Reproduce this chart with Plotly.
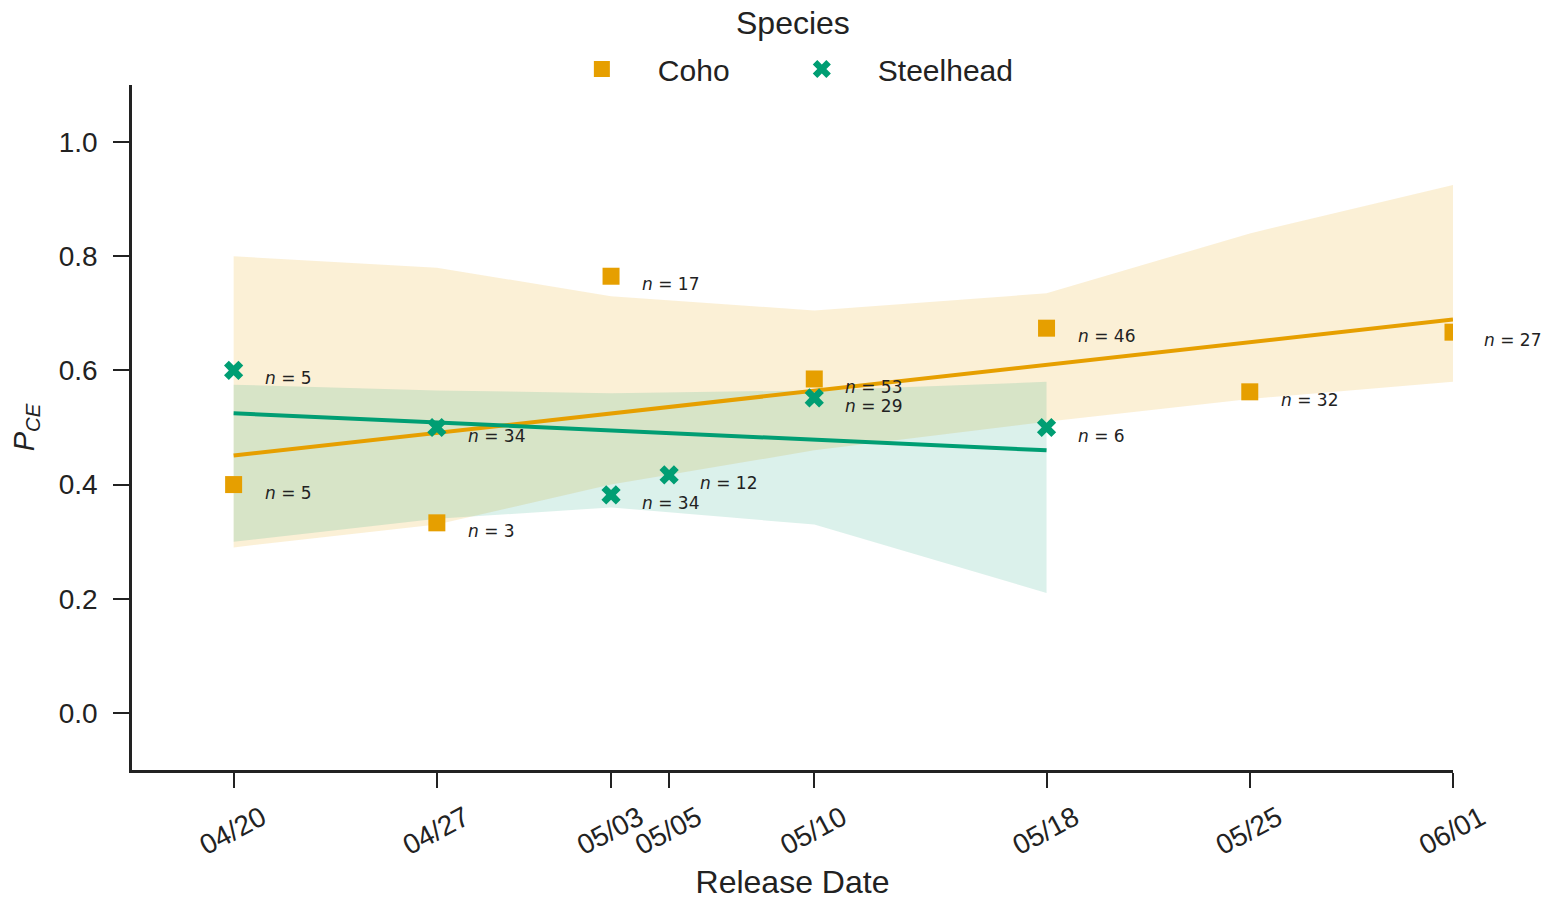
import plotly.graph_objects as go

# Release dates and capture-efficiency estimates per species
coho_dates = ["2021-04-20", "2021-04-27", "2021-05-03", "2021-05-10",
              "2021-05-18", "2021-05-25", "2021-06-01"]
coho_pce = [0.40, 0.333, 0.765, 0.585, 0.674, 0.5625, 0.667]
coho_n = [5, 3, 17, 53, 46, 32, 27]

steel_dates = ["2021-04-20", "2021-04-27", "2021-05-03", "2021-05-05",
               "2021-05-10", "2021-05-18"]
steel_pce = [0.60, 0.50, 0.382, 0.417, 0.552, 0.50]
steel_n = [5, 34, 34, 12, 29, 6]

# Fitted trend (end points) and confidence band per species
coho_fit_dates = ["2021-04-20", "2021-06-01"]
coho_fit = [0.451, 0.689]
coho_band_dates = coho_dates
coho_band_hi = [0.80, 0.78, 0.73, 0.705, 0.735, 0.84, 0.925]
coho_band_lo = [0.29, 0.33, 0.40, 0.46, 0.51, 0.55, 0.58]

steel_fit_dates = ["2021-04-20", "2021-05-18"]
steel_fit = [0.525, 0.460]
steel_band_dates = ["2021-04-20", "2021-04-27", "2021-05-03", "2021-05-10", "2021-05-18"]
steel_band_hi = [0.575, 0.565, 0.56, 0.565, 0.58]
steel_band_lo = [0.30, 0.34, 0.36, 0.33, 0.21]

tick_dates = ["2021-04-20", "2021-04-27", "2021-05-03", "2021-05-05",
              "2021-05-10", "2021-05-18", "2021-05-25", "2021-06-01"]
tick_text = ["04/20", "04/27", "05/03", "05/05", "05/10", "05/18", "05/25", "06/01"]

ORANGE = "#E69F00"
GREEN = "#009E73"
INK = "#222222"
SANS = "Liberation Sans"

fig = go.Figure()


def add_band(dates, lo, hi, rgb, alpha):
    fig.add_trace(go.Scatter(
        x=list(dates) + list(dates)[::-1],
        y=list(hi) + list(lo)[::-1],
        fill="toself", mode="lines", line=dict(width=0),
        fillcolor=f"rgba({rgb},{alpha})", hoverinfo="skip", showlegend=False,
    ))


add_band(coho_band_dates, coho_band_lo, coho_band_hi, "230,159,0", 0.16)
add_band(steel_band_dates, steel_band_lo, steel_band_hi, "0,158,115", 0.14)

fig.add_trace(go.Scatter(x=coho_fit_dates, y=coho_fit, mode="lines",
                         line=dict(color=ORANGE, width=4), showlegend=False))
fig.add_trace(go.Scatter(x=steel_fit_dates, y=steel_fit, mode="lines",
                         line=dict(color=GREEN, width=4), showlegend=False))

fig.add_trace(go.Scatter(x=coho_dates, y=coho_pce, mode="markers", name="Coho",
                         marker=dict(symbol="square", size=17, color=ORANGE),
                         legend="legend"))
fig.add_trace(go.Scatter(x=steel_dates, y=steel_pce, mode="markers", name="Steelhead",
                         marker=dict(symbol="x", size=17, color=GREEN),
                         legend="legend2"))

# Sample-size labels beside each point
for dates, vals, ns in ((coho_dates, coho_pce, coho_n), (steel_dates, steel_pce, steel_n)):
    for d, v, n in zip(dates, vals, ns):
        fig.add_annotation(x=d, y=v, xref="x", yref="y", text=f"<i>n</i> = {n}",
                           showarrow=False, xanchor="left", yanchor="middle",
                           xshift=29, yshift=-8,
                           font=dict(family="DejaVu Sans", size=17, color=INK))

# Legend heading
fig.add_annotation(text="Species", xref="paper", yref="paper", x=0.5, y=1.0905,
                   xanchor="center", yanchor="middle", showarrow=False,
                   font=dict(family=SANS, size=32, color=INK))

axis_font = dict(family=SANS, size=28, color=INK)
legend_style = dict(orientation="h", xanchor="left", y=1.0234, yanchor="middle",
                    font=dict(family=SANS, size=30, color=INK),
                    itemwidth=102, bgcolor="rgba(0,0,0,0)")

fig.update_layout(
    width=1551, height=900,
    margin=dict(l=132, r=98, t=85, b=130, autoexpand=False),
    paper_bgcolor="white", plot_bgcolor="white",
    font=dict(family=SANS, color=INK),
    legend=dict(x=0.3133, **legend_style),
    legend2=dict(x=0.4798, **legend_style),
    xaxis=dict(
        type="date", range=["2021-04-16 12:00", "2021-06-01"],
        tickvals=tick_dates, ticktext=tick_text, tickangle=-28,
        ticklabelshift=28, ticklabelstandoff=3,
        ticks="outside", ticklen=15, tickwidth=2, tickcolor=INK,
        showline=True, linewidth=2.5, linecolor=INK,
        showgrid=False, zeroline=False, tickfont=axis_font,
        title=dict(text="Release Date", font=dict(size=32), standoff=12),
    ),
    yaxis=dict(
        range=[-0.1, 1.1], tickvals=[0.0, 0.2, 0.4, 0.6, 0.8, 1.0],
        tickformat=".1f", ticklabelstandoff=10,
        ticks="outside", ticklen=16, tickwidth=2, tickcolor=INK,
        showline=True, linewidth=2.5, linecolor=INK,
        showgrid=False, zeroline=False, tickfont=axis_font,
        title=dict(text="<i>P</i><sub><i>CE</i></sub>", font=dict(size=29), standoff=16),
    ),
)

fig.write_html("out.html")
